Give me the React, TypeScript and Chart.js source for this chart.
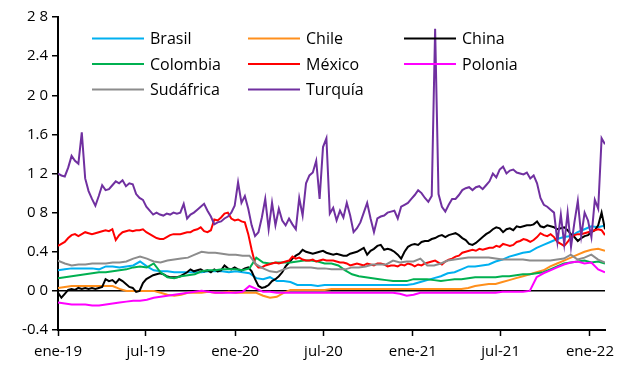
import React, { useEffect, useRef } from "react";
import { Chart, registerables } from "chart.js";

Chart.register(...registerables);

// ---------- data ----------
const SERIES_NAMES = ["Brasil", "Chile", "China", "Colombia", "México", "Polonia", "Sudáfrica", "Turquía"];
const SERIES_COLORS = ["#00B0F0", "#FF8F1C", "#000000", "#00B050", "#FF0000", "#FF00FF", "#8C8C8C", "#7030A0"];

const X_TICK_LABELS = ["ene-19", "jul-19", "ene-20", "jul-20", "ene-21", "jul-21", "ene-22"];
const X_TICK_DATES: [number, number][] = [[2019, 0], [2019, 6], [2020, 0], [2020, 6], [2021, 0], [2021, 6], [2022, 0]];
const Y_TICK_LABELS = ["-0.4", "0 0", "0.4", "0 8", "1 2", "1.6", "2 0", "2.4", "2 8"];

const START_DATE: [number, number, number] = [2019, 0, 1];
const END_DATE: [number, number, number] = [2022, 1, 1];

// weekly series
const TURQUIA = [
  1.20, 1.18, 1.17, 1.26, 1.38, 1.33, 1.30, 1.62, 1.15, 1.02,
  0.94, 0.87, 0.97, 1.08, 1.03, 1.04, 1.08, 1.12, 1.10, 1.13,
  1.07, 1.10, 1.09, 0.99, 0.95, 0.93, 0.86, 0.82, 0.78, 0.80,
  0.78, 0.77, 0.79, 0.78, 0.80, 0.79, 0.80, 0.89, 0.74, 0.78,
  0.80, 0.83, 0.86, 0.89, 0.82, 0.76, 0.68, 0.70, 0.71, 0.74,
  0.76, 0.80, 0.87, 1.11, 0.90, 0.97, 0.84, 0.67, 0.56, 0.60,
  0.75, 0.94, 0.63, 0.90, 0.67, 0.84, 0.72, 0.67, 0.74, 0.68,
  0.63, 0.95, 0.77, 1.10, 1.18, 1.21, 1.33, 0.94, 1.47, 1.56,
  0.79, 0.85, 0.72, 0.82, 0.75, 0.90, 0.77, 0.60, 0.64, 0.70,
  0.80, 0.90, 0.74, 0.60, 0.74, 0.76, 0.77, 0.80, 0.81, 0.82,
  0.74, 0.86, 0.88, 0.90, 0.94, 0.98, 1.03, 1.00, 0.95, 0.91,
  0.97, 2.68, 0.99, 0.86, 0.81, 0.88, 0.94, 0.94, 0.98, 1.03,
  1.05, 1.06, 1.03, 1.06, 1.07, 1.04, 1.08, 1.12, 1.20, 1.16,
  1.24, 1.27, 1.20, 1.23, 1.24, 1.21, 1.20, 1.19, 1.21, 1.15,
  1.18, 1.10, 0.95, 0.88, 0.86, 0.83, 0.80, 0.50, 0.78, 0.48,
  0.80, 0.45, 0.70, 0.92, 0.56, 0.80, 0.72, 0.55, 0.93, 0.84,
  1.56, 1.50,
];

const MEXICO = [
  0.46, 0.48, 0.50, 0.54, 0.57, 0.58, 0.56, 0.58, 0.60, 0.59,
  0.58, 0.59, 0.60, 0.61, 0.62, 0.61, 0.63, 0.52, 0.57, 0.60,
  0.61, 0.62, 0.61, 0.62, 0.62, 0.63, 0.60, 0.58, 0.56, 0.54,
  0.53, 0.53, 0.55, 0.57, 0.58, 0.58, 0.58, 0.59, 0.60, 0.60,
  0.62, 0.63, 0.65, 0.61, 0.60, 0.62, 0.73, 0.72, 0.75, 0.79,
  0.80, 0.74, 0.72, 0.73, 0.71, 0.70, 0.58, 0.42, 0.28, 0.24,
  0.24, 0.26, 0.27, 0.28, 0.29, 0.28, 0.29, 0.30, 0.31, 0.35,
  0.33, 0.34, 0.32, 0.31, 0.31, 0.32, 0.30, 0.31, 0.32, 0.31,
  0.31, 0.31, 0.30, 0.29, 0.29, 0.28, 0.26, 0.27, 0.28, 0.27,
  0.26, 0.28, 0.27, 0.26, 0.28, 0.28, 0.27, 0.25, 0.26, 0.26,
  0.25, 0.27, 0.26, 0.28, 0.27, 0.25, 0.27, 0.26, 0.28, 0.29,
  0.30, 0.31, 0.29, 0.27, 0.30, 0.32, 0.33, 0.35, 0.36, 0.39,
  0.40, 0.41, 0.42, 0.41, 0.43, 0.42, 0.43, 0.44, 0.44, 0.46,
  0.45, 0.48, 0.47, 0.46, 0.47, 0.50, 0.51, 0.53, 0.52, 0.50,
  0.52, 0.55, 0.59, 0.57, 0.56, 0.58, 0.55, 0.50, 0.48, 0.46,
  0.50, 0.55, 0.57, 0.58, 0.58, 0.59, 0.60, 0.61, 0.62, 0.63,
  0.62, 0.57,
];

const CHINA = [
  -0.02, -0.07, -0.03, 0.01, 0.02, 0.01, 0.03, 0.02, 0.03, 0.02,
  0.03, 0.02, 0.03, 0.04, 0.12, 0.10, 0.11, 0.08, 0.12, 0.10,
  0.07, 0.04, 0.03, -0.01, 0.00, 0.08, 0.12, 0.14, 0.16, 0.17,
  0.18, 0.17, 0.15, 0.14, 0.14, 0.14, 0.15, 0.17, 0.19, 0.22,
  0.20, 0.21, 0.22, 0.20, 0.21, 0.19, 0.22, 0.20, 0.21, 0.26,
  0.23, 0.22, 0.24, 0.22, 0.21, 0.23, 0.24, 0.20, 0.12, 0.05,
  0.03, 0.04, 0.06, 0.10, 0.12, 0.15, 0.19, 0.25, 0.29, 0.33,
  0.36, 0.38, 0.42, 0.40, 0.39, 0.38, 0.39, 0.40, 0.41, 0.39,
  0.38, 0.37, 0.38, 0.37, 0.36, 0.36, 0.38, 0.39, 0.40, 0.42,
  0.44, 0.37, 0.41, 0.43, 0.46, 0.47, 0.42, 0.43, 0.42, 0.40,
  0.37, 0.33, 0.40, 0.45, 0.47, 0.48, 0.47, 0.50, 0.51, 0.51,
  0.53, 0.54, 0.56, 0.57, 0.55, 0.57, 0.58, 0.59, 0.57, 0.54,
  0.52, 0.48, 0.47, 0.49, 0.52, 0.55, 0.58, 0.60, 0.63, 0.65,
  0.64, 0.60, 0.63, 0.64, 0.62, 0.66, 0.65, 0.66, 0.67, 0.67,
  0.68, 0.71, 0.66, 0.65, 0.67, 0.66, 0.65, 0.63, 0.64, 0.65,
  0.62, 0.58, 0.55, 0.51, 0.54, 0.56, 0.57, 0.60, 0.62, 0.67,
  0.80, 0.63,
];

// fortnightly series
const BRASIL = [
  0.21, 0.22, 0.23, 0.23, 0.23, 0.23, 0.22, 0.25, 0.25, 0.24,
  0.25, 0.26, 0.30, 0.25, 0.21, 0.20, 0.20, 0.19, 0.19, 0.19,
  0.19, 0.19, 0.20, 0.20, 0.20, 0.19, 0.20, 0.19, 0.18, 0.13,
  0.12, 0.14, 0.10, 0.10, 0.09, 0.06, 0.06, 0.06, 0.05, 0.06,
  0.06, 0.06, 0.06, 0.06, 0.06, 0.06, 0.06, 0.06, 0.06, 0.06,
  0.06, 0.06, 0.07, 0.09, 0.11, 0.13, 0.15, 0.18, 0.19, 0.22,
  0.25, 0.25, 0.26, 0.27, 0.30, 0.32, 0.35, 0.37, 0.39, 0.40,
  0.44, 0.47, 0.50, 0.53, 0.55, 0.56, 0.60, 0.63, 0.66, 0.65,
  0.67,
];

const CHILE = [
  0.03, 0.04, 0.05, 0.05, 0.05, 0.05, 0.05, 0.05, 0.05, 0.02,
  0.00, 0.00, 0.00, 0.00, 0.00, -0.02, -0.04, -0.05, -0.04, -0.02,
  -0.02, -0.02, -0.01, -0.02, -0.02, -0.01, -0.02, -0.02, -0.02, -0.02,
  -0.05, -0.07, -0.06, -0.02, 0.01, 0.01, 0.01, 0.01, 0.01, 0.01,
  0.02, 0.02, 0.02, 0.02, 0.02, 0.02, 0.02, 0.02, 0.02, 0.02,
  0.02, 0.02, 0.02, 0.02, 0.02, 0.02, 0.02, 0.02, 0.02, 0.02,
  0.03, 0.05, 0.06, 0.07, 0.07, 0.09, 0.11, 0.13, 0.15, 0.17,
  0.19, 0.21, 0.25, 0.28, 0.31, 0.34, 0.37, 0.40, 0.42, 0.43,
  0.41,
];

const COLOMBIA = [
  0.13, 0.14, 0.15, 0.16, 0.17, 0.18, 0.19, 0.19, 0.20, 0.21,
  0.22, 0.24, 0.25, 0.24, 0.28, 0.19, 0.14, 0.13, 0.15, 0.16,
  0.17, 0.20, 0.21, 0.21, 0.22, 0.22, 0.22, 0.21, 0.23, 0.34,
  0.29, 0.28, 0.29, 0.29, 0.29, 0.30, 0.31, 0.31, 0.30, 0.28,
  0.28, 0.26, 0.21, 0.17, 0.15, 0.14, 0.13, 0.12, 0.11, 0.10,
  0.10, 0.10, 0.12, 0.12, 0.12, 0.11, 0.10, 0.11, 0.12, 0.12,
  0.13, 0.14, 0.14, 0.14, 0.14, 0.15, 0.15, 0.16, 0.17, 0.17,
  0.18, 0.19, 0.22, 0.25, 0.28, 0.29, 0.30, 0.31, 0.29, 0.30,
  0.28,
];

const SUDAFRICA = [
  0.31, 0.28, 0.26, 0.27, 0.27, 0.28, 0.28, 0.28, 0.29, 0.29,
  0.30, 0.33, 0.35, 0.33, 0.30, 0.29, 0.31, 0.32, 0.33, 0.34,
  0.37, 0.40, 0.39, 0.39, 0.38, 0.37, 0.37, 0.36, 0.36, 0.27,
  0.23, 0.20, 0.19, 0.22, 0.24, 0.24, 0.24, 0.24, 0.23, 0.23,
  0.22, 0.22, 0.22, 0.24, 0.24, 0.25, 0.27, 0.27, 0.27, 0.31,
  0.29, 0.30, 0.30, 0.33, 0.26, 0.26, 0.28, 0.31, 0.32, 0.33,
  0.34, 0.34, 0.34, 0.34, 0.33, 0.32, 0.32, 0.32, 0.32, 0.31,
  0.31, 0.31, 0.31, 0.32, 0.33, 0.37, 0.32, 0.34, 0.37, 0.32,
  0.29,
];

const POLONIA = [
  -0.12, -0.13, -0.14, -0.14, -0.14, -0.15, -0.15, -0.14, -0.13, -0.12,
  -0.11, -0.10, -0.10, -0.09, -0.07, -0.06, -0.05, -0.04, -0.03, -0.02,
  -0.01, 0.00, -0.01, -0.02, -0.02, -0.02, -0.02, -0.01, 0.05, 0.02,
  -0.01, -0.01, -0.02, -0.02, -0.02, -0.02, -0.02, -0.02, -0.02, -0.02,
  -0.02, -0.02, -0.02, -0.02, -0.02, -0.02, -0.02, -0.02, -0.02, -0.02,
  -0.03, -0.05, -0.04, -0.02, -0.02, -0.02, -0.02, -0.02, -0.02, -0.02,
  -0.02, -0.02, -0.02, -0.02, -0.02, -0.01, -0.01, -0.01, -0.01, 0.00,
  0.14, 0.18, 0.21, 0.24, 0.27, 0.29, 0.30, 0.28, 0.29, 0.22,
  0.19,
];

const SERIES_VALUES = [BRASIL, CHILE, CHINA, COLOMBIA, MEXICO, POLONIA, SUDAFRICA, TURQUIA];

// ---------- helpers ----------
const DAY_MS = 86400000;
const dayOf = (y: number, m: number, d = 1) =>
  Math.round((Date.UTC(y, m, d) - Date.UTC(START_DATE[0], START_DATE[1], START_DATE[2])) / DAY_MS);
const END_DAY = dayOf(END_DATE[0], END_DATE[1], END_DATE[2]);
const X_TICK_DAYS = X_TICK_DATES.map(([y, m]) => dayOf(y, m, 1));

const toPoints = (vals: number[]) => {
  const step = END_DAY / (vals.length - 1);
  return vals.map((v, i) => ({ x: i * step, y: v }));
};

const FONT = "'Open Sans', 'DejaVu Sans', sans-serif";

const insideLegend = {
  id: "insideLegend",
  afterDraw(chart: any) {
    const { ctx, chartArea } = chart;
    ctx.save();
    ctx.font = `16px ${FONT}`;
    ctx.textBaseline = "middle";
    ctx.textAlign = "left";
    SERIES_NAMES.forEach((name, i) => {
      const col = i % 3;
      const row = Math.floor(i / 3);
      const x = chartArea.left + 34 + col * 156;
      const y = chartArea.top + 21.5 + row * 25.5;
      ctx.strokeStyle = SERIES_COLORS[i];
      ctx.lineWidth = 2;
      ctx.beginPath();
      ctx.moveTo(x, y);
      ctx.lineTo(x + 52, y);
      ctx.stroke();
      ctx.fillStyle = "#000";
      ctx.fillText(name, x + 58, y + 1);
    });
    ctx.restore();
  },
};

export default function App() {
  const ref = useRef<HTMLCanvasElement | null>(null);

  useEffect(() => {
    if (!ref.current) return;
    const n = SERIES_NAMES.length;
    const chart = new Chart(ref.current, {
      type: "line",
      data: {
        datasets: SERIES_NAMES.map((name, i) => ({
          label: name,
          data: toPoints(SERIES_VALUES[i]),
          borderColor: SERIES_COLORS[i],
          backgroundColor: SERIES_COLORS[i],
          borderWidth: 2,
          pointRadius: 0,
          tension: 0,
          fill: false,
          order: n - 1 - i,
        })),
      },
      options: {
        animation: false,
        responsive: true,
        maintainAspectRatio: false,
        layout: { padding: { left: 8, right: 26, top: 17, bottom: 0 } },
        plugins: { legend: { display: false }, tooltip: { enabled: false } },
        scales: {
          x: {
            type: "linear",
            min: 0,
            max: END_DAY,
            afterBuildTicks: (scale: any) => {
              scale.ticks = X_TICK_DAYS.map((v) => ({ value: v }));
            },
            afterFit: (scale: any) => {
              scale.height = 35;
            },
            ticks: {
              autoSkip: false,
              maxRotation: 0,
              minRotation: 0,
              padding: 7,
              color: "#000",
              font: { family: FONT, size: 15 },
              callback: (_v: any, idx: number) => X_TICK_LABELS[idx],
            },
            grid: {
              drawOnChartArea: false,
              drawTicks: true,
              tickLength: 6,
              tickColor: "#000",
              tickWidth: 1.5,
            },
            border: { display: true, color: "#000", width: 2 },
          },
          y: {
            type: "linear",
            min: -0.4,
            max: 2.8,
            afterFit: (scale: any) => {
              scale.width = 50;
            },
            ticks: {
              stepSize: 0.4,
              padding: 4,
              color: "#000",
              font: { family: FONT, size: 15 },
              callback: (_v: any, idx: number) => Y_TICK_LABELS[idx],
            },
            grid: {
              drawOnChartArea: true,
              drawTicks: true,
              tickLength: 6,
              tickColor: "#000",
              tickWidth: 1.5,
              lineWidth: 1.5,
              color: (c: any) => (c.tick && Math.abs(c.tick.value) < 1e-9 ? "#000" : "rgba(0,0,0,0)"),
            },
            border: { display: true, color: "#000", width: 2 },
          },
        },
      },
      plugins: [insideLegend],
    });
    return () => chart.destroy();
  }, []);

  return (
    <div style={{ position: "absolute", left: 0, top: 0, width: 631, height: 365, background: "#fff" }}>
      <canvas ref={ref} />
    </div>
  );
}
